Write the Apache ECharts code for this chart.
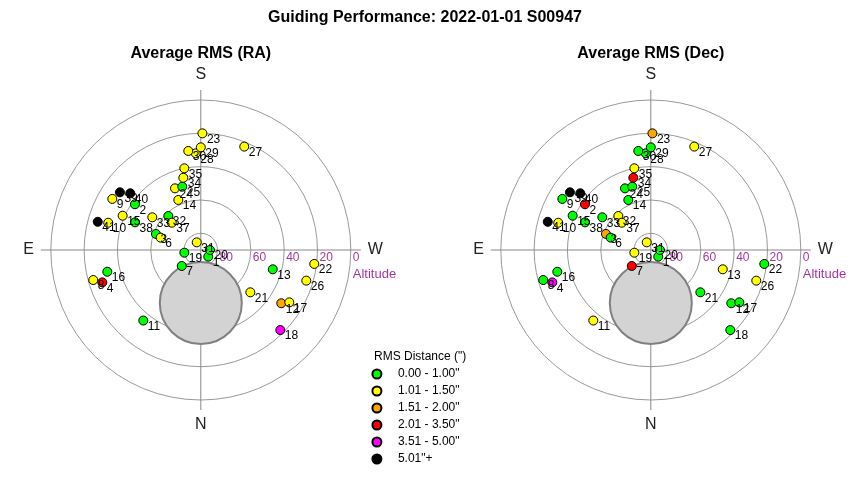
<!DOCTYPE html>
<html><head><meta charset="utf-8">
<script src="https://cdn.jsdelivr.net/npm/echarts@6/dist/echarts.min.js"></script>
<style>html,body{margin:0;padding:0;background:#fff}#c{width:850px;height:480px}</style>
</head><body><div id="c"></div>
<script>
// ---- data ----
const pointIds = [1,2,3,4,6,7,8,9,10,11,12,13,14,15,16,17,18,19,20,21,22,23,24,25,26,27,28,29,30,31,32,33,34,35,37,38,39,40,41];
const azimuth  = [311.8,124.8,109.7,71.8,107.1,50.0,74.4,120.0,106.4,39.2,303.5,285.0,155.8,113.7,76.9,300.6,315.2,80.7,270.0,310.5,277.0,180.8,157.3,163.7,286.2,202.8,177.0,180.0,172.8,152.0,136.3,124.0,166.4,168.6,133.2,112.8,125.5,128.8,105.3];
const altitude = [84.0,41.9,61.4,27.8,64.8,75.1,23.0,28.7,32.1,35.4,32.1,45.3,57.1,38.8,32.4,28.3,22.3,80.0,84.5,50.9,21.4,20.0,49.9,50.4,24.1,22.7,31.9,28.4,30.1,84.8,61.8,54.9,45.4,40.0,66.1,47.2,30.4,35.7,25.9];
// RMS class index (0..5)
const raClass  = [0,0,0,3,1,0,1,1,1,0,2,0,1,1,0,1,4,0,0,1,1,1,1,0,1,1,1,1,1,1,0,1,1,1,1,0,5,5,5];
const decClass = [0,3,2,4,0,3,0,0,1,1,0,1,0,0,0,0,0,1,0,0,0,2,0,0,1,1,0,0,0,1,1,0,3,1,1,0,5,5,5];
const classLabels = ['0.00 - 1.00"','1.01 - 1.50"','1.51 - 2.00"','2.01 - 3.50"','3.51 - 5.00"','5.01"+'];
const classColors = ['#00ff00','#ffff00','#ffa500','#ff0000','#ff00ff','#000000'];
const ringAltitudes = [0,20,40,60,80];
const compassAngles = [0,90,180,270];
const compassLabels = ['N','E','S','W'];
const obstruction = {az: 0, alt: 58.2};
const panels = [{title:'Average RMS (RA)', cls: raClass}, {title:'Average RMS (Dec)', cls: decClass}];

// ---- layout ----
const centersX = [200.8, 650.8];
const cy = 250, R = 150, Rcross = 160;
const FONT = 'Liberation Sans, Arial, sans-serif';

const polar = [], radiusAxis = [], angleAxis = [], series = [], title = [];
title.push({text:'Guiding Performance: 2022-01-01 S00947', left:'center', top:10, padding:0,
  textStyle:{fontSize:16, fontWeight:'bold', color:'#000', fontFamily:FONT}});

panels.forEach((p, k) => {
  const cx = centersX[k];
  polar.push({center:[cx, cy], radius:R});
  polar.push({center:[cx, cy], radius:Rcross});
  radiusAxis.push({polarIndex:2*k, type:'value', min:0, max:90, interval:20, inverse:true,
    axisLine:{show:false}, axisTick:{show:false}, axisLabel:{show:false},
    splitLine:{show:true, lineStyle:{color:'#999', width:1}}});
  angleAxis.push({polarIndex:2*k, type:'value', min:0, max:360, startAngle:270, clockwise:true,
    axisLine:{show:false}, axisTick:{show:false}, axisLabel:{show:false}, splitLine:{show:false}});
  radiusAxis.push({polarIndex:2*k+1, type:'value', min:0, max:1, show:false,
    axisLine:{show:false}, axisTick:{show:false}, axisLabel:{show:false}, splitLine:{show:false}});
  angleAxis.push({polarIndex:2*k+1, type:'value', min:0, max:360, interval:90, startAngle:270, clockwise:true,
    axisLine:{show:false}, axisTick:{show:false},
    splitLine:{show:true, lineStyle:{color:'#888', width:1}},
    axisLabel:{show:true, margin:7, fontSize:16, color:'#222', fontFamily:FONT,
      formatter: v => { const i = compassAngles.indexOf(v % 360); return i >= 0 ? compassLabels[i] : ''; }}});
  title.push({text:p.title, left:cx, textAlign:'center', top:46, padding:0,
    textStyle:{fontSize:16, fontWeight:'bold', color:'#000', fontFamily:FONT}});

  series.push({type:'scatter', coordinateSystem:'polar', polarIndex:2*k, silent:true, z:1,
    symbolSize:82, data:[[obstruction.alt, obstruction.az]],
    itemStyle:{color:'#d3d3d3', borderColor:'#808080', borderWidth:2, opacity:1}});
  series.push({type:'scatter', coordinateSystem:'polar', polarIndex:2*k, silent:true, z:3,
    symbolSize:0, data: ringAltitudes.map(a => ({value:[a, 270], name:String(a)})),
    label:{show:true, position:'right', distance:0, offset:[2, 8], formatter:'{b}',
      color:'#8b008b', fontSize:12, fontFamily:FONT}});
  series.push({type:'scatter', coordinateSystem:'polar', polarIndex:2*k, silent:true, z:3,
    symbolSize:0, data:[{value:[ringAltitudes[0], 270], name:'Altitude'}],
    label:{show:true, position:'right', distance:0, offset:[2, 24], formatter:'{b}',
      color:'#8b008b', fontSize:13, fontFamily:FONT}});
  series.push({type:'scatter', coordinateSystem:'polar', polarIndex:2*k, z:4, symbolSize:9,
    data: pointIds.map((id, i) => ({value:[altitude[i], azimuth[i]], name:String(id),
      itemStyle:{color: classColors[p.cls[i]]}})),
    itemStyle:{borderColor:'#000', borderWidth:1, opacity:1},
    emphasis:{disabled:true},
    label:{show:true, position:[9.5, 11], verticalAlign:'middle', align:'left', formatter:'{b}',
      color:'#000', fontSize:12, fontFamily:FONT}});
});

classLabels.forEach((name, i) => {
  series.push({type:'scatter', name, data:[], polarIndex:0, coordinateSystem:'polar', symbolSize:9,
    itemStyle:{color:classColors[i], borderColor:'#000', borderWidth:1, opacity:1}});
});
title.push({text:'RMS Distance (")', left:374, top:351, padding:0,
  textStyle:{fontSize:12, fontWeight:'normal', color:'#000', fontFamily:FONT}});

const chart = echarts.init(document.getElementById('c'), null, {renderer:'canvas'});
chart.setOption({
  backgroundColor:'#fff',
  animation:false,
  title, polar, radiusAxis, angleAxis, series,
  legend:{data:classLabels, orient:'vertical', left:366.4, top:363, padding:5, selectedMode:false,
    icon:'circle', itemWidth:32, itemHeight:9, itemGap:5,
    textStyle:{fontSize:12, color:'#000', fontFamily:FONT}}
});
</script></body></html>
